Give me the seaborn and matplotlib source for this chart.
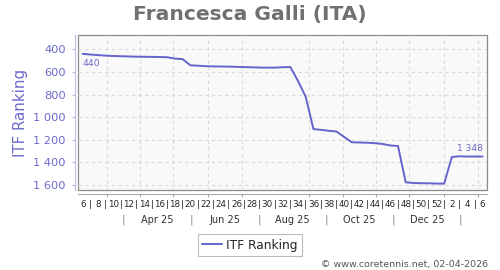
import matplotlib
matplotlib.use("Agg")
import matplotlib.pyplot as plt
from matplotlib.patches import Rectangle
from matplotlib.ticker import FuncFormatter, FixedLocator
import seaborn as sns
import pandas as pd
import numpy as np

# ---- data ----
week_labels = [6, 8, 10, 12, 14, 16, 18, 20, 22, 24, 26, 28, 30, 32, 34, 36,
               38, 40, 42, 44, 46, 48, 50, 52, 2, 4, 6]
itf_ranking = [440, 446, 451, 456, 459, 461, 463, 465, 466, 467, 468, 470, 482, 487,
               541, 545, 549, 551, 552, 553, 555, 557, 559, 561, 562, 562, 558, 557,
               680, 820, 1105, 1112, 1120, 1127, 1175, 1222, 1224, 1226, 1230, 1237,
               1250, 1255, 1576, 1582, 1584, 1585, 1587, 1588, 1352, 1346, 1348, 1348, 1348]
month_labels = ["Apr 25", "Jun 25", "Aug 25", "Oct 25", "Dec 25"]
month_bounds = [5.28, 14.08, 22.93, 31.64, 40.38, 49.18]   # week-index positions
grid_positions = [3.12, 7.45, 11.8, 16.34, 20.67, 25.0, 29.46, 33.8, 38.13, 42.46, 47.01, 51.43]
y_ticks = [400, 600, 800, 1000, 1200, 1400, 1600]

df = pd.DataFrame({"week": np.arange(len(itf_ranking)), "ITF Ranking": itf_ranking})

LINE = "#6464cc"
BLUE_TXT = "#6a6acc"
W, H = 500, 270

sns.set_theme(style="white")
plt.rcParams["font.family"] = ["DejaVu Sans"]

fig = plt.figure(figsize=(5, 2.7), dpi=100)
ax = fig.add_axes([78.3 / W, 1 - 190 / H, (487.3 - 78.3) / W, (190 - 35.3) / H])
ax.set_facecolor("none")
ax.add_patch(Rectangle((0, 0), 1, 1, transform=ax.transAxes, facecolor="#f9f9f9",
                       edgecolor="#8a8a8a", linewidth=0.9, zorder=0, clip_on=False))

sns.lineplot(data=df, x="week", y="ITF Ranking", ax=ax, color=LINE, linewidth=1.4,
             label="ITF Ranking", zorder=3)

ax.set_xlim(-0.57, 52.61)
ax.set_ylim(1644, 276)

# y axis
ax.set_yticks(y_ticks)
ax.yaxis.set_major_formatter(FuncFormatter(lambda v, p: f"{int(v):,}".replace(",", " ")))
ax.tick_params(axis="y", which="major", length=2.2, width=0.8, color="#b4b4e0",
               labelsize=8.2, labelcolor=BLUE_TXT, pad=4.3, left=True)
ax.set_ylabel("ITF Ranking", fontsize=10.8, color=BLUE_TXT, labelpad=4)
ax.yaxis.set_label_coords(-(78.3 - 28) / (487.3 - 78.3), 0.5)

# x axis: week labels on every even week, separators on odd weeks
n = len(itf_ranking)
xt_labels = []
for i in range(n):
    xt_labels.append(str(week_labels[i // 2]) if i % 2 == 0 else "|")
ax.set_xticks(np.arange(n))
ax.set_xticklabels(xt_labels)
for i, t in enumerate(ax.get_xticklabels()):
    t.set_color("#333333" if i % 2 == 0 else "#777777")
ax.tick_params(axis="x", which="major", length=0, labelsize=6.3, pad=4.3, bottom=True)
ax.xaxis.set_minor_locator(FixedLocator(grid_positions))
ax.tick_params(axis="x", which="minor", length=2.2, width=0.8, color="#aaaaaa", bottom=True)
ax.set_xlabel("")

# grid
ax.grid(False)
ax.grid(True, axis="y", which="major", linestyle=(0, (3, 3)), color="#d9d9d9", linewidth=0.8, zorder=1)
ax.grid(True, axis="x", which="minor", linestyle=(0, (3, 3)), color="#d9d9d9", linewidth=0.8, zorder=1)

# spines
for s in ["top", "right"]:
    ax.spines[s].set_visible(False)
ax.spines["left"].set_visible(True)
ax.spines["bottom"].set_visible(True)
ax.spines["left"].set_position(("outward", 2.4))
ax.spines["left"].set_color("#b8b8e4")
ax.spines["left"].set_linewidth(0.8)
ax.spines["bottom"].set_position(("outward", 2.9))
ax.spines["bottom"].set_color("#aaaaaa")
ax.spines["bottom"].set_linewidth(0.8)

# month row
trans = ax.get_xaxis_transform()
ymonth = -(220 - 190) / (190 - 35.3)
for lab, a, b in zip(month_labels, month_bounds[:-1], month_bounds[1:]):
    ax.text((a + b) / 2, ymonth, lab, transform=trans, ha="center", va="center",
            fontsize=7, color="#333333", clip_on=False)
for b in month_bounds:
    ax.text(b, ymonth, "|", transform=trans, ha="center", va="center",
            fontsize=7.5, color="#888888", clip_on=False)

# annotations for first and last values
ax.annotate(f"{itf_ranking[0]:,}".replace(",", " "), xy=(0, itf_ranking[0]),
            xytext=(0, -6.8), textcoords="offset points", ha="left", va="center",
            fontsize=6.6, color=BLUE_TXT)
ax.annotate(f"{itf_ranking[-1]:,}".replace(",", " "), xy=(n - 1, itf_ranking[-1]),
            xytext=(0.5, 6.0), textcoords="offset points", ha="right", va="center",
            fontsize=6.6, color=BLUE_TXT)

# legend
leg = ax.legend(loc="center", bbox_to_anchor=(250 / W, 1 - 245 / H),
                bbox_transform=fig.transFigure, fontsize=8.7, frameon=True,
                fancybox=False, handlelength=1.6, handletextpad=0.4,
                borderpad=0.35, borderaxespad=0)
leg.get_frame().set_edgecolor("#aaaaaa")
leg.get_frame().set_linewidth(0.8)
for t in leg.get_texts():
    t.set_color("#222222")

# title & footer
fig.text(0.5, 1 - 14.5 / H, "Francesca Galli (ITA)", ha="center", va="center",
         fontsize=14.6, fontweight="bold", color="#707070")
fig.text(488 / W, 1 - 264 / H, "\u00a9 www.coretennis.net, 02-04-2026", ha="right",
         va="center", fontsize=6.8, color="#555555")

fig.savefig("out.png", dpi=100, facecolor="white")
